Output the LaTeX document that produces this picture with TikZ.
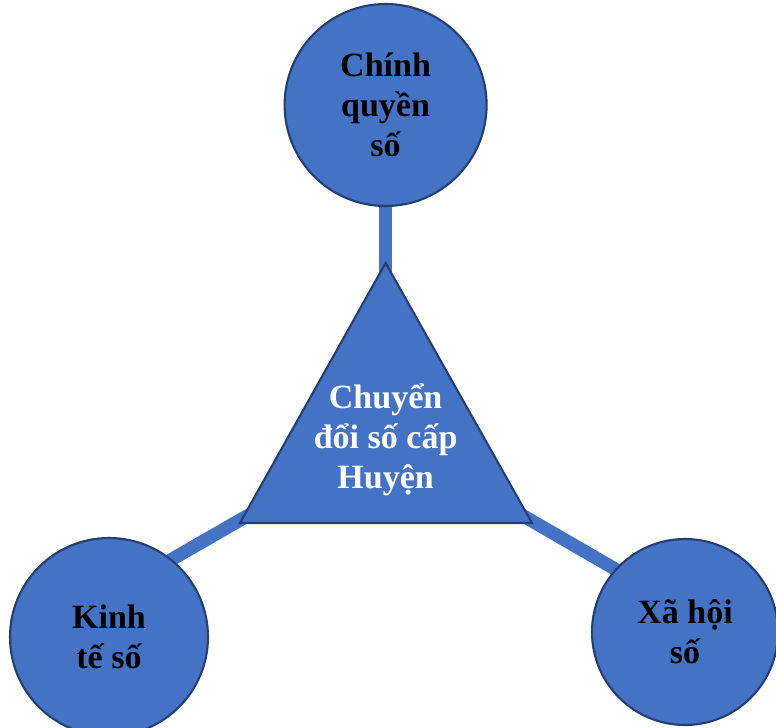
\documentclass[tikz,border=0pt]{standalone}
\usepackage{fontspec}
\setmainfont{Liberation Serif}
\usetikzlibrary{backgrounds}
\definecolor{main}{HTML}{4472C4}
\definecolor{rim}{HTML}{243F72}

\begin{document}
\begin{tikzpicture}[font=\bfseries\fontsize{24.2}{28.5}\selectfont,
  area/.style={circle,draw=rim,fill=main,line width=1.5pt,align=center,inner sep=0pt},
  spoke/.style={draw=main,line width=9.4pt,shorten >=-6pt}]
  \useasboundingbox (0,0) rectangle (19.4,18.175);
  \node[area,minimum size=5.05cm] (cq) at (9.64, 15.55) {Chính\\quyền\\số};
  \node[area,minimum size=4.95cm] (kt) at (2.725, 2.25) {Kinh\\tế số};
  \node[area,minimum size=4.65cm] (xh) at (17.125, 2.375) {Xã hội\\số};
  \coordinate (ctr) at (9.64, 7.27);
  \draw[fill=main,draw=rim,line width=1.5pt] (9.64,11.6) -- (6.0,5.1) -- (13.3,5.1) -- cycle;
  \node[text=white,align=center] (hub) at (9.64, 7.175) {Chuyển\\đổi số cấp\\Huyện};
  \begin{scope}[on background layer]
    \path[spoke] (ctr) -- (cq.south);
    \path[spoke] (ctr) -- (kt.51);
    \path[spoke] (ctr) -- (xh.138);
  \end{scope}
\end{tikzpicture}
\end{document}
